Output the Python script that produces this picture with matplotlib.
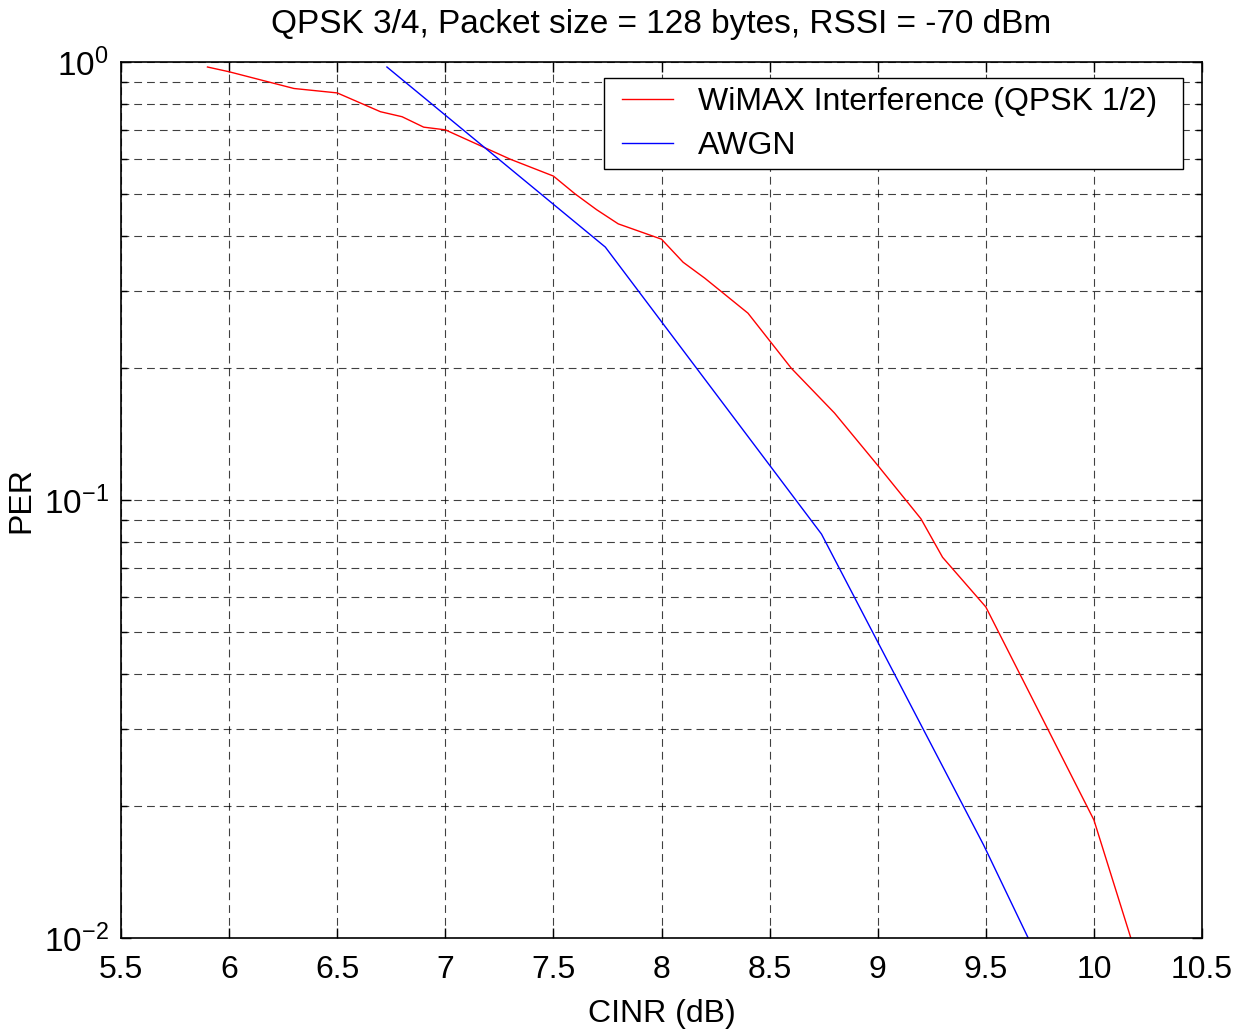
import matplotlib
matplotlib.use("Agg")
import matplotlib.pyplot as plt
from matplotlib.patches import Rectangle
from matplotlib.ticker import NullFormatter, FixedLocator, LogLocator

plt.rcParams['font.family'] = ['Liberation Sans', 'DejaVu Sans']
plt.rcParams['mathtext.fontset'] = 'custom'
plt.rcParams['mathtext.rm'] = 'Liberation Sans'
plt.rcParams['mathtext.it'] = 'Liberation Sans'
plt.rcParams['mathtext.default'] = 'regular'

# WiMAX interference curve (red)
wimax_cinr = [5.9, 6.0, 6.3, 6.5, 6.7, 6.8, 6.9, 7.0, 7.3, 7.5, 7.6, 7.7, 7.8, 8.0,
              8.1, 8.2, 8.4, 8.6, 8.8, 9.0, 9.2, 9.3, 9.5, 10.0, 10.25]
wimax_per = [0.974, 0.95, 0.87, 0.85, 0.77, 0.75, 0.71, 0.70, 0.60, 0.549, 0.50, 0.46,
             0.427, 0.394, 0.349, 0.321, 0.267, 0.20, 0.158, 0.12, 0.0906, 0.074,
             0.057, 0.0186, 0.0075]

# AWGN curve (blue)
awgn_cinr = [6.73, 7.74, 8.74, 9.49, 9.75]
awgn_per = [0.974, 0.378, 0.0836, 0.0163, 0.0088]

x_ticks = [5.5, 6, 6.5, 7, 7.5, 8, 8.5, 9, 9.5, 10, 10.5]
x_labels = ['5.5', '6', '6.5', '7', '7.5', '8', '8.5', '9', '9.5', '10', '10.5']
y_ticks = [0.01, 0.1, 1]
y_labels = [r'$10^{-2}$', r'$10^{-1}$', r'$10^{0}$']

W, H = 1243, 1036
fig = plt.figure(figsize=(W / 100, H / 100), dpi=100)
ax = fig.add_axes([121 / W, 1 - 938 / H, 1081 / W, 876 / H])

ax.plot(wimax_cinr, wimax_per, color='red', lw=1.0, label='WiMAX Interference (QPSK 1/2)')
ax.plot(awgn_cinr, awgn_per, color='blue', lw=1.0, label='AWGN')

ax.set_yscale('log')
ax.set_xlim(5.5, 10.5)
ax.set_ylim(0.01, 1)
ax.set_xticks(x_ticks)
ax.set_xticklabels(x_labels)
ax.yaxis.set_major_locator(FixedLocator(y_ticks))
ax.set_yticklabels(y_labels)
ax.yaxis.set_minor_locator(LogLocator(base=10, subs=range(2, 10), numticks=20))
ax.yaxis.set_minor_formatter(NullFormatter())

grid_style = dict(color='k', linestyle=(0, (7, 4.5)), linewidth=0.8, alpha=0.75)
ax.grid(True, which='major', axis='both', **grid_style)
ax.grid(True, which='minor', axis='y', **grid_style)

ax.tick_params(which='both', direction='in', top=True, right=True)
ax.tick_params(which='major', length=7, width=1)
ax.tick_params(which='minor', length=4, width=1)
ax.tick_params(axis='x', labelsize=23, pad=12)
ax.tick_params(axis='y', labelsize=24, pad=9)
for s in ax.spines.values():
    s.set_linewidth(1.2)

ax.set_title('QPSK 3/4, Packet size = 128 bytes, RSSI = -70 dBm', fontsize=24, pad=21)
ax.set_xlabel('CINR (dB)', fontsize=23, labelpad=10)
ax.set_ylabel('PER', fontsize=23, labelpad=5)

# legend box drawn separately so its size matches the original
box = Rectangle((604 / W, 1 - 169 / H), 579 / W, 91 / H, transform=fig.transFigure,
                facecolor='white', edgecolor='k', linewidth=1.0, zorder=4, clip_on=False)
ax.add_patch(box)
leg = ax.legend(loc='upper left', bbox_to_anchor=(622 / W, 1 - 87 / H),
                bbox_transform=fig.transFigure, fontsize=23, frameon=False,
                borderpad=0, handlelength=1.6, handletextpad=0.78,
                labelspacing=0.45, borderaxespad=0)
leg.set_zorder(5)

fig.savefig('out.png', dpi=100)
